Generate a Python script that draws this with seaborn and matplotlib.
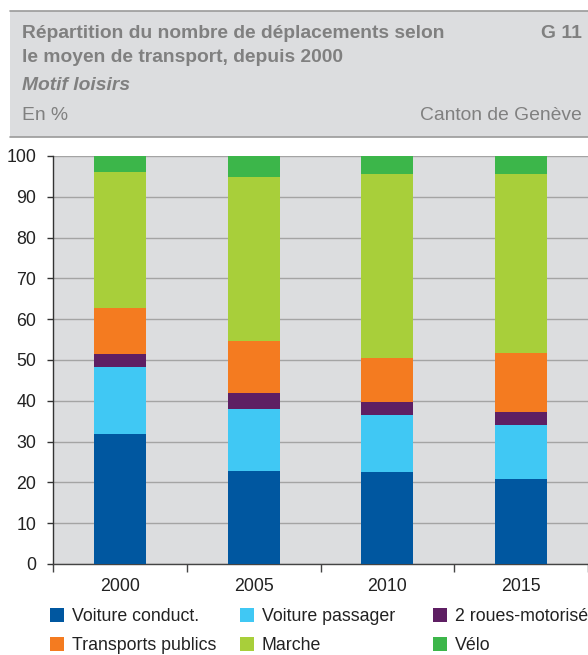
import numpy as np
import pandas as pd
import seaborn as sns
import matplotlib.pyplot as plt
from matplotlib.patches import Rectangle, Patch
from matplotlib.lines import Line2D

# données (en %)
annees = ['2000', '2005', '2010', '2015']
modes = ['Voiture conduct.', 'Voiture passager', '2 roues-motorisés',
         'Transports publics', 'Marche', 'Vélo']
voiture_conduct = [31.8, 22.9, 22.6, 20.8]
voiture_passager = [16.6, 15.1, 14.0, 13.2]
deux_roues = [3.0, 3.8, 3.0, 3.2]
transports_publics = [11.4, 12.8, 11.0, 14.4]
marche = [33.3, 40.2, 45.1, 43.9]
velo = [3.9, 5.2, 4.3, 4.7]

couleurs = ['#0057a0', '#40c8f4', '#5e1f63', '#f47b20', '#a8cf3a', '#3cb64a']

sns.set_style('white')
plt.rcParams['font.family'] = ['Liberation Sans', 'DejaVu Sans']

df = pd.DataFrame({
    'annee': annees,
    modes[0]: voiture_conduct,
    modes[1]: voiture_passager,
    modes[2]: deux_roues,
    modes[3]: transports_publics,
    modes[4]: marche,
    modes[5]: velo,
})
cumul = df[modes].cumsum(axis=1)
cumul['annee'] = df['annee']

W, H = 588, 655
fig = plt.figure(figsize=(W / 100, H / 100), dpi=100)
ax = fig.add_axes([53 / W, 1 - 564 / H, 1 - 53 / W, (564 - 156) / H])
ax.set_facecolor('#dcdddf')

# barres empilées : on dessine les cumuls du plus haut au plus bas
for mode, col in reversed(list(zip(modes, couleurs))):
    sns.barplot(data=cumul, x='annee', y=mode, color=col, width=0.39,
                linewidth=0, saturation=1, ax=ax, zorder=3)

ax.set_ylim(0, 100)
ax.set_xlim(-0.5, 3.5)
ax.set_yticks(np.arange(0, 101, 10))
ax.yaxis.grid(True, color='#a4a4a4', linewidth=1, zorder=0)
ax.set_axisbelow(True)
ax.set_xlabel('')
ax.set_ylabel('')
for s in ['top', 'right']:
    ax.spines[s].set_visible(False)
ax.spines['left'].set_color('#333333')
ax.spines['bottom'].set_color('#444444')
ax.spines['left'].set_linewidth(1)
ax.spines['bottom'].set_linewidth(1)
ax.tick_params(axis='y', length=4, width=1, color='#333333', pad=8,
               labelsize=12.8, labelcolor='#222222', left=True)
ax.tick_params(axis='x', which='major', length=0, pad=10,
               labelsize=12.8, labelcolor='#222222')
ax.set_xticks(np.arange(-0.5, 3.6, 1), minor=True)
ax.tick_params(axis='x', which='minor', length=6, width=1, color='#444444',
               bottom=True)

# en-tête grisé
fig.patches.append(Rectangle((10 / W, 1 - 137 / H), 1 - 10 / W, 126 / H,
                             transform=fig.transFigure, facecolor='#dcdddf',
                             edgecolor='none', zorder=0))
for yy in [11, 137]:
    fig.lines.append(Line2D([10 / W, 1], [1 - yy / H, 1 - yy / H],
                            transform=fig.transFigure, color='#9a9a9a', lw=1.2))

gris = '#808080'
fs_tete = 13.9
fig.text(22 / W, 1 - 34 / H, 'Répartition du nombre de déplacements selon',
         fontsize=fs_tete, fontweight='bold', color=gris, va='center', ha='left')
fig.text(22 / W, 1 - 58 / H, 'le moyen de transport, depuis 2000',
         fontsize=fs_tete, fontweight='bold', color=gris, va='center', ha='left')
fig.text(22 / W, 1 - 86 / H, 'Motif loisirs', fontsize=fs_tete, fontweight='bold',
         fontstyle='italic', color=gris, va='center', ha='left')
fig.text(22 / W, 1 - 116 / H, 'En %', fontsize=fs_tete, color=gris,
         va='center', ha='left')
fig.text(582 / W, 1 - 34 / H, 'G 11', fontsize=fs_tete, fontweight='bold',
         color=gris, va='center', ha='right')
fig.text(582 / W, 1 - 116 / H, 'Canton de Genève', fontsize=fs_tete, color=gris,
         va='center', ha='right')

# légende : trois colonnes de deux entrées
colonnes_x = [50, 240, 433]
for i, x0 in enumerate(colonnes_x):
    handles = [Patch(facecolor=couleurs[i], edgecolor='none'),
               Patch(facecolor=couleurs[i + 3], edgecolor='none')]
    fig.legend(handles, [modes[i], modes[i + 3]], loc='upper left',
               bbox_to_anchor=(x0 / W, 1 - 608 / H), frameon=False,
               fontsize=12.8, handlelength=0.8, handleheight=0.8,
               handletextpad=0.42, labelspacing=0.68, borderaxespad=0,
               borderpad=0, labelcolor='#222222')

fig.savefig('out.png', dpi=100)
